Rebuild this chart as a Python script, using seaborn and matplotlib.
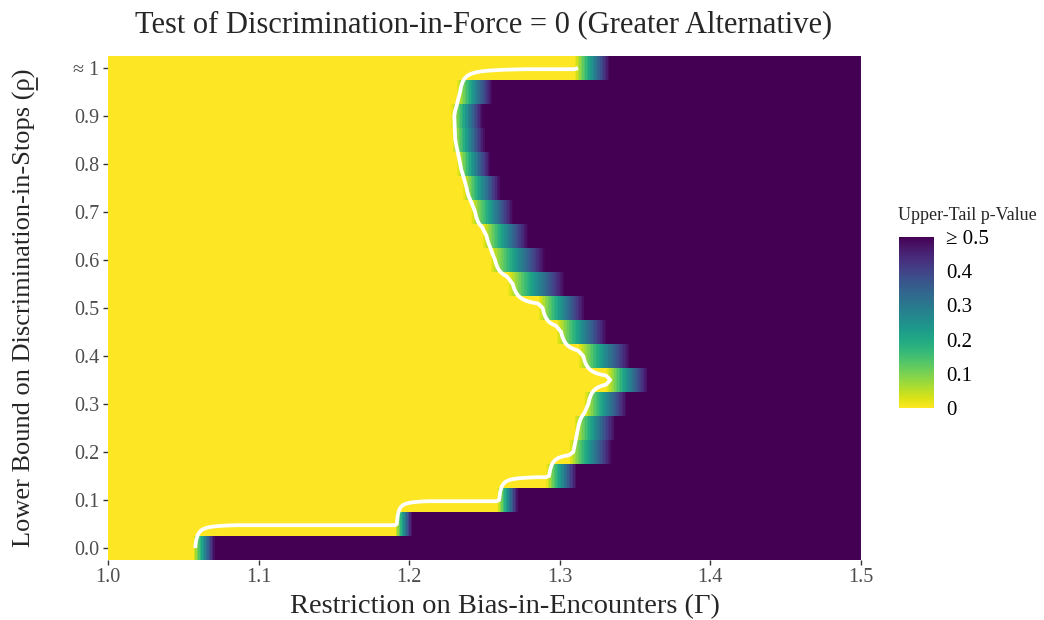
import numpy as np
import pandas as pd
import matplotlib
matplotlib.use('Agg')
import matplotlib.pyplot as plt
from matplotlib.lines import Line2D
import seaborn as sns

# rows of the grid: lower bound on discrimination-in-stops
rho = [0.0, 0.05, 0.1, 0.15, 0.2, 0.25, 0.3, 0.35, 0.4, 0.45, 0.5,
       0.55, 0.6, 0.65, 0.7, 0.75, 0.8, 0.85, 0.9, 0.95, 1.0]
# gamma where p starts to leave 0, per row
gamma_lo = [1.0564, 1.1906, 1.2583, 1.2908, 1.3061, 1.3094, 1.3161, 1.3307, 1.3121, 1.2975, 1.2855,
            1.2649, 1.2533, 1.2483, 1.2410, 1.2357, 1.2317, 1.2284, 1.2278, 1.2314, 1.3098]
# gamma where p reaches 0.5, per row
gamma_hi = [1.0710, 1.2019, 1.2722, 1.3114, 1.3347, 1.3367, 1.3446, 1.3586, 1.3466, 1.3313, 1.3167,
            1.3035, 1.2902, 1.2789, 1.2689, 1.2603, 1.2537, 1.2503, 1.2490, 1.2550, 1.3333]

x_ticks = [1.0, 1.1, 1.2, 1.3, 1.4, 1.5]
y_ticks = [0.0, 0.1, 0.2, 0.3, 0.4, 0.5, 0.6, 0.7, 0.8, 0.9, 1.0]
y_ticklabels = ['0.0', '0.1', '0.2', '0.3', '0.4', '0.5', '0.6', '0.7', '0.8', '0.9', '\u2248 1']
cbar_ticks = [0, 0.1, 0.2, 0.3, 0.4, 0.5]
cbar_ticklabels = ['0', '0.1', '0.2', '0.3', '0.4', '\u2265 0.5']

step = 0.001
gamma = np.round(1.0 + step / 2 + step * np.arange(500), 4)

# p-value grid, top row = rho 1
rows = []
for r, lo, hi in zip(rho, gamma_lo, gamma_hi):
    rows.append(np.clip(0.5 * (gamma - lo) / (hi - lo), 0, 1))
pvals = pd.DataFrame(rows[::-1], index=rho[::-1], columns=gamma)

sns.set_style('white')
plt.rcParams['font.family'] = ['Liberation Serif', 'DejaVu Serif']

W, H = 1044, 620
fig = plt.figure(figsize=(W / 100, H / 100), dpi=100)
ax = fig.add_axes([108 / W, 60 / H, 753 / W, 504 / H])
cax = fig.add_axes([899 / W, 212 / H, 35 / W, 171 / H])

sns.heatmap(pvals.clip(upper=0.5), ax=ax, cbar_ax=cax, cmap='viridis_r', vmin=0, vmax=0.5,
            xticklabels=False, yticklabels=False, rasterized=True)

xc = np.arange(len(gamma)) + 0.5
yc = np.arange(len(rho)) + 0.5
ax.contour(xc, yc, pvals.values, levels=[0.05], colors='white', linewidths=2.7)

ax.set_xticks([(g - 1.0) / step for g in x_ticks])
ax.set_xticklabels(['%.1f' % g for g in x_ticks])
nrow = len(rho)
ax.set_yticks([nrow - 1 - r / 0.05 + 0.5 for r in y_ticks])
ax.set_yticklabels(y_ticklabels, rotation=0)
ax.tick_params(axis='both', which='both', length=3.6, width=1, color='#333333',
               labelcolor='#4D4D4D', labelsize=14.5, pad=2.5, bottom=True, left=True)

fig.text(484 / W, 1 - 25 / H, 'Test of Discrimination-in-Force = 0 (Greater Alternative)',
         ha='center', va='center', fontsize=22)
fig.text(505 / W, 1 - 607 / H, 'Restriction on Bias-in-Encounters (\u0393)',
         ha='center', va='center', fontsize=20.5)
ylab_prefix = 'Lower Bound on Discrimination-in-Stops ('
ylab = fig.text(24 / W, 1 - 308 / H, ylab_prefix + '\u03c1)', rotation=90,
                ha='center', va='center', fontsize=19)

cbar = ax.collections[0].colorbar
cbar.set_ticks(cbar_ticks)
cbar.set_ticklabels(cbar_ticklabels)
cbar.outline.set_visible(False)
cax.yaxis.set_ticks_position('both')
cax.tick_params(direction='in', length=6, width=1, color='white', labelcolor='black',
                labelsize=15, pad=9, left=True, right=True)
fig.text(898 / W, 1 - 216 / H, 'Upper-Tail p-Value', ha='left', va='center', fontsize=13)

# underline the rho in the y label (bar under the lower bound)
fig.canvas.draw()
rend = fig.canvas.get_renderer()
bb = ylab.get_window_extent(rend)
tmp = fig.text(0, 0, ylab_prefix, fontsize=19)
w_pre = tmp.get_window_extent(rend).width
tmp.set_text('\u03c1')
w_rho = tmp.get_window_extent(rend).width
tmp.remove()
xline = bb.x1 + 1.5
y0 = bb.y0 + w_pre + 1
fig.add_artist(Line2D([xline / W, xline / W], [y0 / H, (y0 + w_rho - 1) / H],
                      transform=fig.transFigure, color='black', linewidth=1.1))

fig.savefig('out.png', dpi=100)
